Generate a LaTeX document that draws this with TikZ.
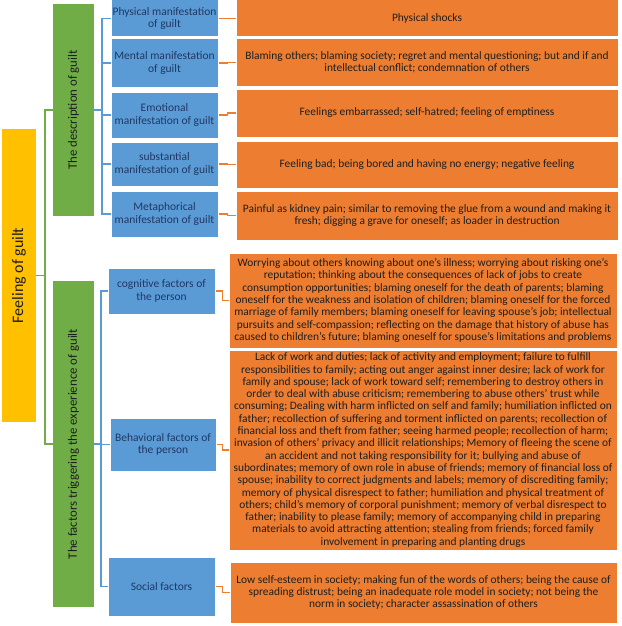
\documentclass[tikz,border=0pt]{standalone}
\usepackage{fontspec}
\setmainfont{Carlito}
\usetikzlibrary{positioning}
\definecolor{offorange}{HTML}{ED7D31}
\definecolor{offblue}{HTML}{5B9BD5}
\definecolor{offgreen}{HTML}{70AD47}
\definecolor{offyellow}{HTML}{FFC000}
\definecolor{navytext}{HTML}{1F3864}
\definecolor{darktext}{HTML}{1E1E1E}

\begin{document}
\begin{tikzpicture}[
  x=1pt, y=-1pt,
  rootbox/.style={fill=offyellow, text=darktext, rotate=90, minimum width=293pt, minimum height=34pt, inner sep=0pt, font=\fontsize{16}{19}\selectfont},
  groupbox/.style={fill=offgreen, text=darktext, rotate=90, minimum width=#1, minimum height=41pt, inner sep=0pt, font=\fontsize{12.8}{15}\selectfont},
  factorbox/.style={draw=white, line width=1pt, fill=offblue, text=navytext, align=center, minimum width=107pt, minimum height=#1, inner sep=0pt, font=\fontsize{11.5}{12.8}\selectfont},
  detailbox/.style={draw=white, line width=1pt, fill=offorange, text=darktext, align=center, minimum width=382pt, minimum height=#1, inner sep=0pt, font=\fontsize{11.4}{12.3}\selectfont},
  greenlink/.style={offgreen, line width=1.2pt},
  bluelink/.style={offblue, line width=1.2pt},
  orangelink/.style={offorange, line width=1.2pt}
]
  \useasboundingbox (0,0) rectangle (621,626);

  % Root and the two branches
  \node[rootbox] (feel) at (19,275.5) {Feeling of guilt};
  \node[groupbox=211pt] (desc) at (73.5,110) {The description of guilt};
  \node[groupbox=326pt] (trig) at (73.5,444) {The factors triggering the experience of guilt};

  % Branch 1: how guilt shows itself
  \node[factorbox=37pt] (phys) at (164.5,18.5) {Physical manifestation\\of guilt};
  \node[factorbox=48pt] (ment) at (164.5,63) {Mental manifestation\\of guilt};
  \node[factorbox=46pt] (emo) at (164.5,115) {Emotional\\manifestation of guilt};
  \node[factorbox=44pt] (subst) at (164.5,164) {substantial\\manifestation of guilt};
  \node[factorbox=46pt] (meta) at (164.5,214) {Metaphorical\\manifestation of guilt};

  \node[detailbox=37pt] (physd) at (427,18.5) {Physical shocks};
  \node[detailbox=47pt] (mentd) at (427,62.5) {Blaming others; blaming society; regret and mental questioning; but and if and\\intellectual conflict; condemnation of others};
  \node[detailbox=48pt] (emod) at (427,113) {Feelings embarrassed; self-hatred; feeling of emptiness};
  \node[detailbox=47pt] (substd) at (427,164.5) {Feeling bad; being bored and having no energy; negative feeling};
  \node[detailbox=49pt] (metad) at (427,215.5) {Painful as kidney pain; similar to removing the glue from a wound and making it\\fresh; digging a grave for oneself; as loader in destruction};

  % Branch 2: what triggers it
  \node[factorbox=46pt] (cog) at (161.5,291) {cognitive factors of\\the person};
  \node[factorbox=53pt, minimum width=106pt] (beh) at (163,444.5) {Behavioral factors of\\the person};
  \node[factorbox=59pt] (soc) at (161.5,586.5) {Social factors};

  \node[detailbox=95pt, minimum width=388pt] (cogd) at (423,300.5) {Worrying about others knowing about one's illness; worrying about risking one's\\reputation; thinking about the consequences of lack of jobs to create\\consumption opportunities; blaming oneself for the death of parents; blaming\\oneself for the weakness and isolation of children; blaming oneself for the forced\\marriage of family members; blaming oneself for leaving spouse's job; intellectual\\pursuits and self-compassion; reflecting on the damage that history of abuse has\\caused to children's future; blaming oneself for spouse's limitations and problems};
  \node[detailbox=200pt, minimum width=388pt] (behd) at (423,450) {Lack of work and duties; lack of activity and employment; failure to fulfill\\responsibilities to family; acting out anger against inner desire; lack of work for\\family and spouse; lack of work toward self; remembering to destroy others in\\order to deal with abuse criticism; remembering to abuse others' trust while\\consuming; Dealing with harm inflicted on self and family; humiliation inflicted on\\father; recollection of suffering and torment inflicted on parents; recollection of\\financial loss and theft from father; seeing harmed people; recollection of harm;\\invasion of others' privacy and illicit relationships; Memory of fleeing the scene of\\an accident and not taking responsibility for it; bullying and abuse of\\subordinates; memory of own role in abuse of friends; memory of financial loss of\\spouse; inability to correct judgments and labels; memory of discrediting family;\\memory of physical disrespect to father; humiliation and physical treatment of\\others; child's memory of corporal punishment; memory of verbal disrespect to\\father; inability to please family; memory of accompanying child in preparing\\materials to avoid attracting attention; stealing from friends; forced family\\involvement in preparing and planting drugs};
  \node[detailbox=61pt, minimum width=387pt] (socd) at (423.5,592.5) {Low self-esteem in society; making fun of the words of others; being the cause of\\spreading distrust; being an inadequate role model in society; not being the\\norm in society; character assassination of others};

  % Brackets
  \coordinate (trunk) at (45,0);
  \coordinate (bus1) at (102,0);
  \coordinate (bus2) at (101,0);
  \draw[greenlink] (feel.south) -- (feel.south -| trunk);
  \draw[greenlink] (desc.north) -- (desc.north -| trunk) |- (trig.north);

  \draw[bluelink] (desc.south) -- (desc.south -| bus1);
  \draw[bluelink] (phys.west) -- (phys.west -| bus1) |- (meta.west);
  \draw[bluelink] (ment.west -| bus1) -- (ment.west);
  \draw[bluelink] (emo.west -| bus1) -- (emo.west);
  \draw[bluelink] (subst.west -| bus1) -- (subst.west);

  \draw[bluelink] (trig.south) -- (trig.south -| bus2);
  \draw[bluelink] (cog.west) -- (cog.west -| bus2) |- (soc.west);
  \draw[bluelink] (beh.west -| bus2) -- (beh.west);

  % Item to detail links
  \draw[orangelink] (phys.east) -- ++(9,0) |- (physd.west);
  \draw[orangelink] (ment.east) -- ++(9,0) |- (mentd.west);
  \draw[orangelink] (emo.east) -- ++(9,0) |- (emod.west);
  \draw[orangelink] (subst.east) -- ++(9,0) |- (substd.west);
  \draw[orangelink] (meta.east) -- ++(9,0) |- (metad.west);
  \draw[orangelink] (cog.east) -- ++(7,0) |- (cogd.west);
  \draw[orangelink] (beh.east) -- ++(6,0) |- (behd.west);
  \draw[orangelink] (soc.east) -- ++(7,0) |- (socd.west);
\end{tikzpicture}
\end{document}
